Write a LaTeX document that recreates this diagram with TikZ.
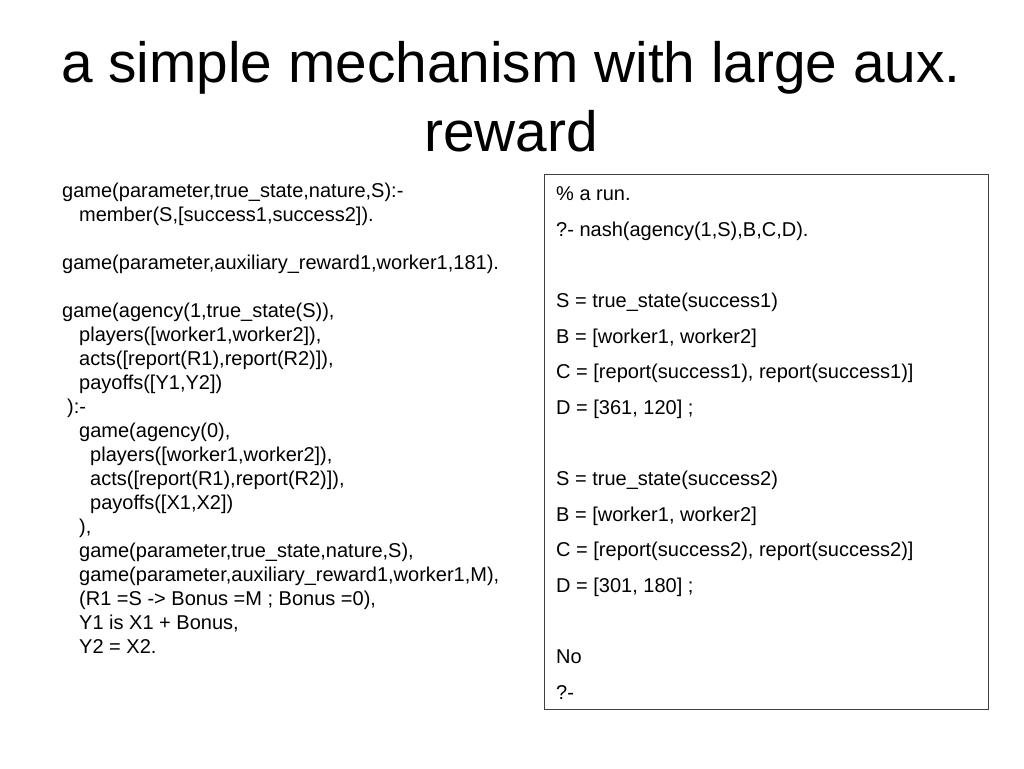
\documentclass[tikz,border=0pt]{standalone}
\usepackage{fontspec}
\setmainfont{Liberation Sans}
\begin{document}
\begin{tikzpicture}[x=1pt,y=-1pt,
  slidetitle/.style={anchor=base, inner sep=0pt, font=\fontsize{56.8}{68}\selectfont},
  code/.style={anchor=mid west, inner sep=0pt, yshift=-5pt, font=\fontsize{20}{24}\selectfont},
  runbox/.style={draw=black!75, line width=1pt}]
\path[fill=white,use as bounding box] (0,0) rectangle (1024,768);
% title
\node[slidetitle] (t1) at (511,82) {a simple mechanism with large aux.};
\node[slidetitle] (t2) at (511,151) {reward};
% left program
\node[code] (l0)  at (62,190) {game(parameter,true\_state,nature,S):-};
\node[code] (l1)  at (79,214) {member(S,[success1,success2]).};
\node[code] (l3)  at (62,262) {game(parameter,auxiliary\_reward1,worker1,181).};
\node[code] (l5)  at (62,310) {game(agency(1,true\_state(S)),};
\node[code] (l6)  at (79,334) {players([worker1,worker2]),};
\node[code] (l7)  at (79,358) {acts([report(R1),report(R2)]),};
\node[code] (l8)  at (79,382) {payoffs([Y1,Y2])};
\node[code] (l9)  at (67,406) {):-};
\node[code] (l10) at (79,430) {game(agency(0),};
\node[code] (l11) at (90,454) {players([worker1,worker2]),};
\node[code] (l12) at (90,478) {acts([report(R1),report(R2)]),};
\node[code] (l13) at (90,502) {payoffs([X1,X2])};
\node[code] (l14) at (79,526) {),};
\node[code] (l15) at (79,550) {game(parameter,true\_state,nature,S),};
\node[code] (l16) at (79,574) {game(parameter,auxiliary\_reward1,worker1,M),};
\node[code] (l17) at (79,598) {(R1 =S -> Bonus =M ; Bonus =0),};
\node[code] (l18) at (79,622) {Y1 is X1 + Bonus,};
\node[code] (l19) at (79,646) {Y2 = X2.};
% right run box
\draw[runbox] (544,174) rectangle (988,709);
\node[code] (r0)  at (556,193.0) {\% a run.};
\node[code] (r1)  at (556,228.6) {?- nash(agency(1,S),B,C,D).};
\node[code] (r3)  at (556,299.8) {S = true\_state(success1)};
\node[code] (r4)  at (556,335.4) {B = [worker1, worker2]};
\node[code] (r5)  at (556,371.0) {C = [report(success1), report(success1)]};
\node[code] (r6)  at (556,406.6) {D = [361, 120] ;};
\node[code] (r8)  at (556,477.8) {S = true\_state(success2)};
\node[code] (r9)  at (556,513.4) {B = [worker1, worker2]};
\node[code] (r10) at (556,549.0) {C = [report(success2), report(success2)]};
\node[code] (r11) at (556,584.6) {D = [301, 180] ;};
\node[code] (r13) at (556,655.8) {No};
\node[code] (r14) at (556,691.4) {?-};
\end{tikzpicture}
\end{document}
